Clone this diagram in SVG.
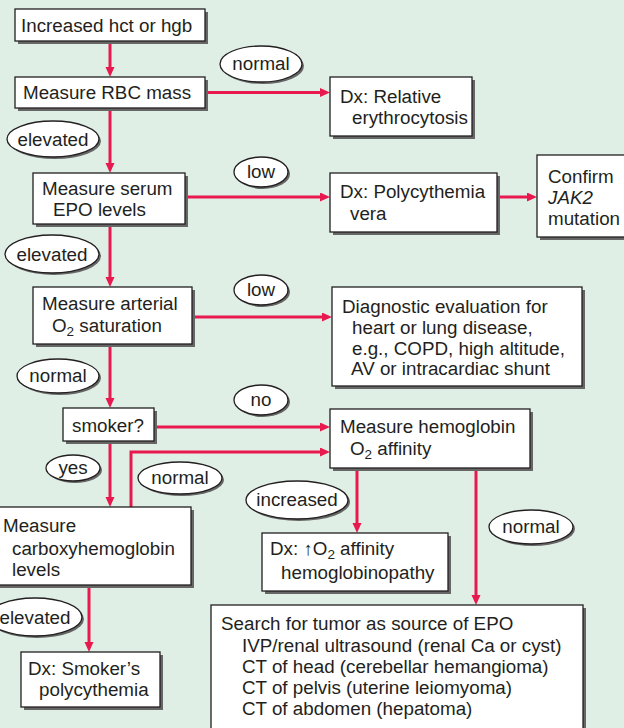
<svg xmlns="http://www.w3.org/2000/svg" width="624" height="728" viewBox="0 0 624 728">
<defs>
<marker id="ah" markerUnits="userSpaceOnUse" markerWidth="10" markerHeight="10" refX="3" refY="4.5" orient="auto">
<path d="M0,0 L10,4.5 L0,9 z" fill="#e8194f"/>
</marker>
<style>
.bx{fill:#fff;stroke:#231f20;stroke-width:1.3}
.sh{fill:#666}
.el{fill:#fff;stroke:#231f20;stroke-width:1.3}
text{font-family:"Liberation Sans",Arial,sans-serif;font-size:18.8px;fill:#231f20}
.c{text-anchor:middle}
.cn{fill:none;stroke:#e8194f;stroke-width:3;marker-end:url(#ah)}
.sub{font-size:13.5px}
</style>
</defs>
<rect width="624" height="728" fill="#e0efe5"/>

<g id="connectors">
<path class="cn" d="M110,41 V70"/>
<path class="cn" d="M205,92.5 H323"/>
<path class="cn" d="M110,108 V166"/>
<path class="cn" d="M185,197 H323"/>
<path class="cn" d="M497,197 H530"/>
<path class="cn" d="M110,224 V280"/>
<path class="cn" d="M192,317 H325"/>
<path class="cn" d="M110,344 V401"/>
<path class="cn" d="M154,427 H323"/>
<path class="cn" d="M110,441 V500"/>
<path class="cn" d="M131,507 V452 H323"/>
<path class="cn" d="M357,468 V526"/>
<path class="cn" d="M476,468 V598"/>
<path class="cn" d="M89,585 V645"/>
</g>

<g id="n-start">
<rect class="sh" x="18" y="12" width="190" height="32"/>
<rect class="bx" x="15" y="9" width="190" height="32"/>
<text x="21" y="32">Increased hct or hgb</text>
</g>
<g id="n-rbc">
<rect class="sh" x="18" y="80" width="190" height="31"/>
<rect class="bx" x="15" y="77" width="190" height="31"/>
<text x="23" y="99">Measure RBC mass</text>
</g>
<g id="n-relative">
<rect class="sh" x="333" y="80" width="142" height="59"/>
<rect class="bx" x="330" y="77" width="142" height="59"/>
<text x="340" y="103">Dx: Relative</text>
<text x="352" y="124">erythrocytosis</text>
</g>
<g id="n-epo">
<rect class="sh" x="36" y="176" width="152" height="51"/>
<rect class="bx" x="33" y="173" width="152" height="51"/>
<text x="42" y="195">Measure serum</text>
<text x="53" y="216">EPO levels</text>
</g>
<g id="n-pv">
<rect class="sh" x="333" y="176" width="167" height="59"/>
<rect class="bx" x="330" y="173" width="167" height="59"/>
<text x="340" y="198">Dx: Polycythemia</text>
<text x="350" y="220">vera</text>
</g>
<g id="n-jak2">
<rect class="sh" x="540" y="158" width="100" height="82"/>
<rect class="bx" x="537" y="155" width="100" height="82"/>
<text x="548" y="183">Confirm</text>
<text x="548" y="204" font-style="italic">JAK2</text>
<text x="548" y="225">mutation</text>
</g>
<g id="n-o2sat">
<rect class="sh" x="36" y="290" width="159" height="57"/>
<rect class="bx" x="33" y="287" width="159" height="57"/>
<text x="42" y="310">Measure arterial</text>
<text x="52" y="332">O<tspan class="sub" dy="4">2</tspan><tspan dy="-4"> saturation</tspan></text>
</g>
<g id="n-diag">
<rect class="sh" x="335" y="290" width="250" height="99"/>
<rect class="bx" x="332" y="287" width="250" height="99"/>
<text x="342" y="313">Diagnostic evaluation for</text>
<text x="352" y="334">heart or lung disease,</text>
<text x="352" y="355">e.g., COPD, high altitude,</text>
<text x="351" y="375">AV or intracardiac shunt</text>
</g>
<g id="n-smoker">
<rect class="sh" x="66" y="411" width="91" height="33"/>
<rect class="bx" x="63" y="408" width="91" height="33"/>
<text x="72" y="432">smoker?</text>
</g>
<g id="n-affinity">
<rect class="sh" x="333" y="412" width="200" height="59"/>
<rect class="bx" x="330" y="409" width="200" height="59"/>
<text x="340" y="433">Measure hemoglobin</text>
<text x="350" y="455">O<tspan class="sub" dy="4">2</tspan><tspan dy="-4"> affinity</tspan></text>
</g>
<g id="n-carboxy">
<rect class="sh" x="-7" y="510" width="201" height="78"/>
<rect class="bx" x="-10" y="507" width="201" height="78"/>
<text x="3" y="532">Measure</text>
<text x="12" y="555">carboxyhemoglobin</text>
<text x="12" y="576">levels</text>
</g>
<g id="n-hbpathy">
<rect class="sh" x="265" y="536" width="186" height="58"/>
<rect class="bx" x="262" y="533" width="186" height="58"/>
<text x="270" y="555">Dx: ↑O<tspan class="sub" dy="3.5">2</tspan><tspan dy="-3.5"> affinity</tspan></text>
<text x="281" y="579">hemoglobinopathy</text>
</g>
<g id="n-smokerpoly">
<rect class="sh" x="24" y="655" width="139" height="55"/>
<rect class="bx" x="21" y="652" width="139" height="55"/>
<text x="28" y="675">Dx: Smoker’s</text>
<text x="39" y="696">polycythemia</text>
</g>
<g id="n-tumor">
<rect class="sh" x="214" y="608" width="372" height="140"/>
<rect class="bx" x="211" y="605" width="372" height="140"/>
<text x="221" y="630">Search for tumor as source of EPO</text>
<text x="242" y="652">IVP/renal ultrasound (renal Ca or cyst)</text>
<text x="242" y="673">CT of head (cerebellar hemangioma)</text>
<text x="242" y="694">CT of pelvis (uterine leiomyoma)</text>
<text x="242" y="715">CT of abdomen (hepatoma)</text>
</g>

<g id="labels">
<g id="l-normal1"><ellipse class="sh" cx="263" cy="66" rx="41" ry="18"/><ellipse class="el" cx="261" cy="64" rx="41" ry="18"/><text class="c" x="261" y="70">normal</text></g>
<g id="l-elev1"><ellipse class="sh" cx="55" cy="141" rx="46" ry="18"/><ellipse class="el" cx="53" cy="139" rx="46" ry="18"/><text class="c" x="53" y="146">elevated</text></g>
<g id="l-low1"><ellipse class="sh" cx="263" cy="174" rx="27" ry="15"/><ellipse class="el" cx="261" cy="172" rx="27" ry="15"/><text class="c" x="261" y="178">low</text></g>
<g id="l-elev2"><ellipse class="sh" cx="54" cy="256" rx="47" ry="19"/><ellipse class="el" cx="52" cy="254" rx="47" ry="19"/><text class="c" x="52" y="261">elevated</text></g>
<g id="l-low2"><ellipse class="sh" cx="263" cy="292" rx="27" ry="15"/><ellipse class="el" cx="261" cy="290" rx="27" ry="15"/><text class="c" x="261" y="296">low</text></g>
<g id="l-normal2"><ellipse class="sh" cx="60" cy="378" rx="41" ry="17"/><ellipse class="el" cx="58" cy="376" rx="41" ry="17"/><text class="c" x="58" y="382">normal</text></g>
<g id="l-no"><ellipse class="sh" cx="263" cy="402" rx="27" ry="15"/><ellipse class="el" cx="261" cy="400" rx="27" ry="15"/><text class="c" x="261" y="406">no</text></g>
<g id="l-yes"><ellipse class="sh" cx="75" cy="470" rx="27" ry="13"/><ellipse class="el" cx="73" cy="468" rx="27" ry="13"/><text class="c" x="73" y="474">yes</text></g>
<g id="l-normal3"><ellipse class="sh" cx="182" cy="480" rx="42" ry="16"/><ellipse class="el" cx="180" cy="478" rx="42" ry="16"/><text class="c" x="180" y="484">normal</text></g>
<g id="l-increased"><ellipse class="sh" cx="299" cy="502" rx="51" ry="19"/><ellipse class="el" cx="297" cy="500" rx="51" ry="19"/><text class="c" x="297" y="506">increased</text></g>
<g id="l-normal4"><ellipse class="sh" cx="533" cy="529" rx="42" ry="17"/><ellipse class="el" cx="531" cy="527" rx="42" ry="17"/><text class="c" x="531" y="533">normal</text></g>
<g id="l-elev3"><ellipse class="sh" cx="37" cy="619" rx="47" ry="19"/><ellipse class="el" cx="35" cy="617" rx="47" ry="19"/><text class="c" x="35" y="624">elevated</text></g>
</g>
</svg>
